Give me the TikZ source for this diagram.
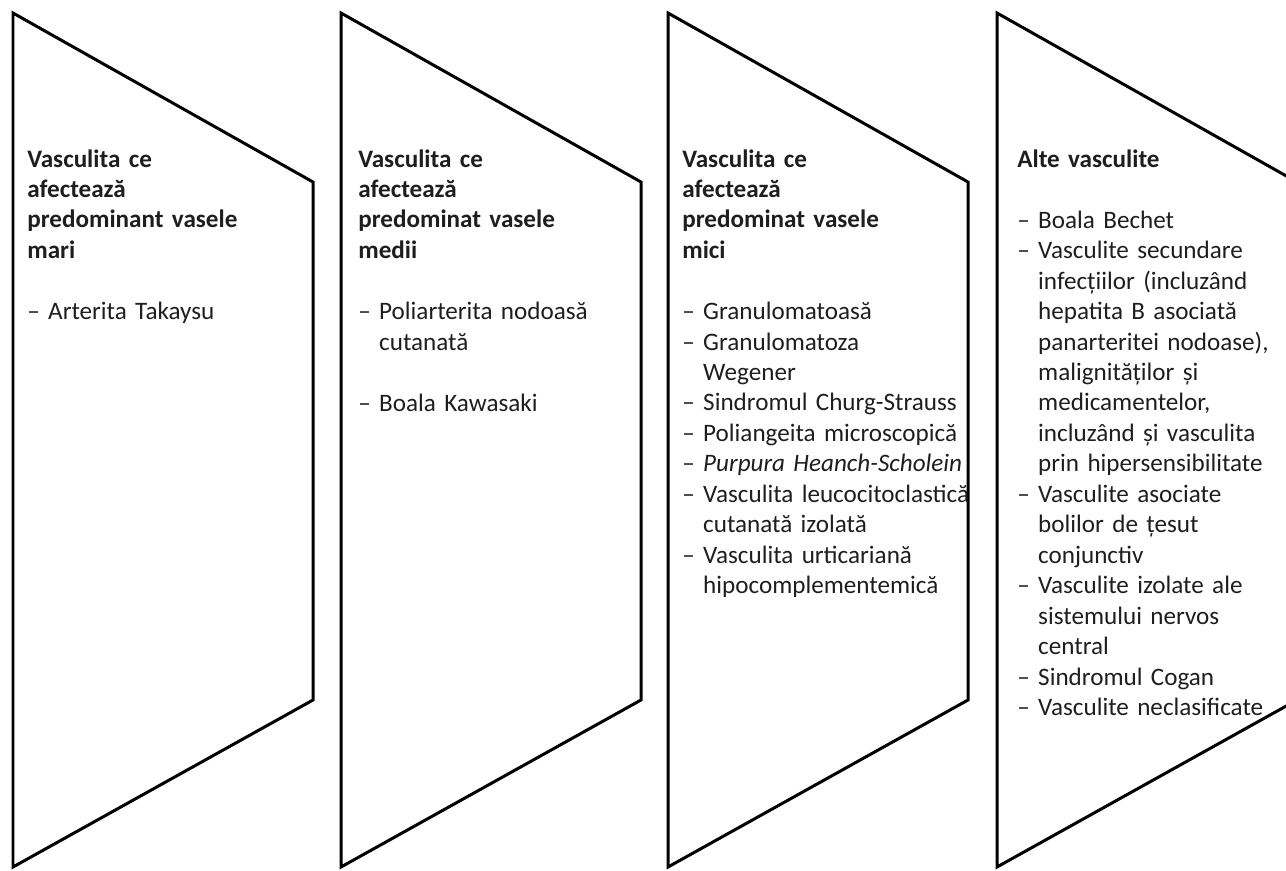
\documentclass[tikz,border=0pt]{standalone}
\usepackage{fontspec}
\setmainfont{Carlito}
\definecolor{txtgray}{HTML}{1E1E1E}
\newcommand{\itemdash}{–\ }
\newcommand{\indt}{\hphantom{–\ }}
\newcommand{\blank}{\\[0.612cm]}
\tikzset{
    %Define style for the column outlines
    chevron/.style={
           draw=black,
           line width=0.06cm,
           line join=miter},
    %Define style for the column texts
    coltext/.style={
           anchor=base west,
           inner sep=0pt,
           text width=7cm,
           align=left,
           text=txtgray,
           font=\fontsize{14.3}{17.35}\selectfont}
}
\begin{document}
\begin{tikzpicture}[x=0.02cm,y=-0.02cm]
 \useasboundingbox (0,0) rectangle (1286,870);
 \clip (0,0) rectangle (1286,870);

 %Outlines
 \foreach \x in {13,341,668,997}
   \draw[chevron] (\x,13) -- (\x+300,182) -- (\x+300,700) -- (\x,867) -- cycle;

 %Large vessels
 \node[coltext] (large) at (27,167) {\textbf{Vasculita ce\\afectează\\predominant vasele\\mari}\blank
   \itemdash Arterita Takaysu};

 %Medium vessels
 \node[coltext] (medium) at (358,167) {\textbf{Vasculita ce\\afectează\\predominat vasele\\medii}\blank
   \itemdash Poliarterita nodoasă\\\indt cutanată\blank
   \itemdash Boala Kawasaki};

 %Small vessels
 \node[coltext] (small) at (682,167) {\textbf{Vasculita ce\\afectează\\predominat vasele\\mici}\blank
   \itemdash Granulomatoasă\\
   \itemdash Granulomatoza\\\indt Wegener\\
   \itemdash Sindromul Churg-Strauss\\
   \itemdash Poliangeita microscopică\\
   \itemdash \textit{Purpura Heanch-Scholein}\\
   \itemdash Vasculita leucocitoclastică\\\indt cutanată izolată\\
   \itemdash Vasculita urticariană\\\indt hipocomplementemică};

 %Other
 \node[coltext] (other) at (1017,167) {\textbf{Alte vasculite}\blank
   \itemdash Boala Bechet\\
   \itemdash Vasculite secundare\\\indt infecțiilor (incluzând\\\indt hepatita B asociată\\\indt panarteritei nodoase),\\\indt malignităților și\\\indt medicamentelor,\\\indt incluzând și vasculita\\\indt prin hipersensibilitate\\
   \itemdash Vasculite asociate\\\indt bolilor de țesut\\\indt conjunctiv\\
   \itemdash Vasculite izolate ale\\\indt sistemului nervos\\\indt central\\
   \itemdash Sindromul Cogan\\
   \itemdash Vasculite neclasificate};
\end{tikzpicture}
\end{document}
